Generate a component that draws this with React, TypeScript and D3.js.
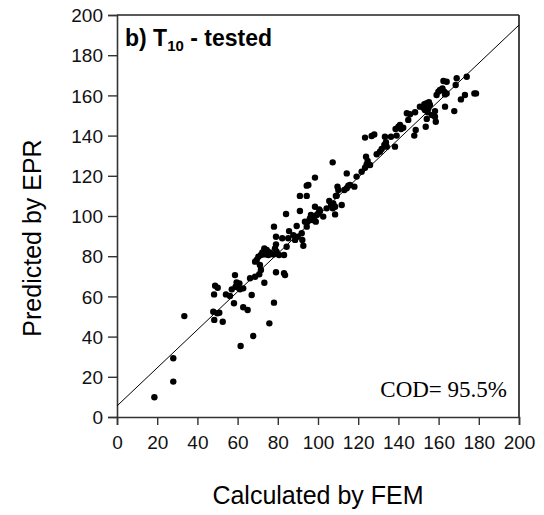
import React, { useEffect, useRef } from "react";
import * as d3 from "d3";

// values (FEM vs EPR)
const calculatedFEM = [
  18.6, 28.0, 28.0, 33.5, 47.9, 48.4, 48.3, 48.8, 50.1, 49.9, 50.9, 52.6, 54.2, 56.2, 57.1, 58.2,
  58.7, 59.5, 60.9, 59.0, 60.4, 61.2, 62.8, 61.5, 62.8, 65.0, 67.0, 67.8, 73.3, 75.8, 78.1, 66.2,
  68.7, 70.8, 71.6, 71.1, 68.7, 69.5, 70.3, 71.6, 73.3, 74.5, 72.3, 73.6, 75.3, 76.1, 77.8, 79.4,
  80.6, 83.1, 79.1, 78.6, 79.1, 83.1, 83.6, 79.1, 78.1, 82.2, 84.4, 85.2, 84.1,
  85.6, 87.7, 89.4, 89.9, 88.6, 91.9, 92.2, 92.7, 91.0, 94.4, 93.5, 94.8, 96.0, 97.2, 98.2, 98.9,
  99.4, 98.5, 101.0, 100.1, 104.3, 105.6, 106.5, 107.6, 108.5, 108.5, 109.3, 110.1, 109.7, 111.8,
  113.1, 114.3, 115.1, 115.9, 114.3, 118.1, 119.2, 107.3, 98.5, 94.4, 95.2, 91.0, 94.4, 102.6, 96.5,
  107.3, 100.6, 108.9,
  121.7, 123.4, 124.2, 124.7, 123.9, 125.9, 129.2, 130.8, 131.7, 133.0, 133.8, 134.2, 138.3, 133.3,
  136.3, 139.1, 123.4, 126.7, 128.0, 138.6, 140.0, 140.8, 142.4, 141.3, 147.9, 148.6, 144.9, 144.2,
  145.8, 148.3, 150.7, 152.4, 152.9, 154.1, 155.2, 155.7, 153.2, 154.9, 154.6, 153.6, 154.1, 156.6,
  158.2, 158.6, 158.2, 159.0, 159.9, 160.7, 161.9, 162.8, 164.0, 163.2, 162.4, 164.0, 163.2, 167.8,
  168.5, 169.0, 171.1, 173.1, 174.0, 177.8, 178.6,
];
const predictedEPR = [
  9.8, 17.6, 29.2, 50.2, 52.4, 48.3, 61.0, 65.3, 64.3, 51.6, 51.9, 47.4, 61.0, 60.2, 63.5, 56.6,
  70.6, 67.0, 66.5, 64.8, 64.3, 63.5, 64.0, 35.3, 54.6, 53.2, 60.7, 40.3, 66.8, 46.6, 56.9, 69.0,
  69.8, 71.0, 73.1, 75.6, 77.3, 78.1, 79.7, 80.6, 83.9, 83.1, 81.9, 80.9, 80.6, 81.9, 80.9, 82.2,
  80.6, 80.6, 85.9, 83.9, 72.0, 71.5, 70.6, 89.7, 94.7, 88.9, 84.7, 88.9, 101.0,
  92.5, 90.5, 95.0, 89.7, 88.1, 91.4, 88.1, 85.2, 102.5, 94.7, 97.2, 97.2, 98.8, 98.0, 99.7, 97.2,
  100.5, 104.6, 102.5, 101.3, 103.8, 107.5, 105.5, 106.3, 104.6, 100.8, 110.1, 112.9, 114.6, 105.5,
  112.9, 113.8, 115.1, 115.4, 121.2, 114.6, 119.6, 126.7, 119.1, 115.1, 115.4, 110.0, 110.0, 99.7, 100.5,
  103.8, 103.3, 110.0,
  122.0, 124.0, 125.7, 127.4, 129.5, 125.4, 130.7, 132.0, 133.3, 135.3, 136.7, 134.5, 134.5, 139.4,
  139.4, 140.0, 139.0, 139.8, 140.6, 143.3, 144.4, 145.3, 143.9, 143.3, 140.0, 142.8, 147.8, 151.1,
  150.6, 151.6, 154.4, 153.9, 155.6, 156.1, 156.6, 155.2, 152.7, 153.6, 151.6, 144.4, 148.3, 150.2,
  149.4, 146.9, 152.2, 160.2, 161.9, 162.7, 163.5, 161.9, 161.0, 160.5, 167.2, 166.8, 154.4, 152.2,
  165.2, 168.5, 158.0, 160.2, 169.3, 161.0, 161.0,
];

const fitLine: [number, number][] = [
  [0, 5.5],
  [200, 195],
];
const tickValues = [0, 20, 40, 60, 80, 100, 120, 140, 160, 180, 200];
const xTitle = "Calculated by FEM";
const yTitle = "Predicted by EPR";
const codLabel = "COD= 95.5%";

const sans = "'Liberation Sans', Arial, sans-serif";

export default function App() {
  const ref = useRef<SVGSVGElement>(null);

  useEffect(() => {
    const svg = d3.select(ref.current);
    svg.selectAll("*").remove();

    const left = 117, right = 519, top = 15, bottom = 417;
    const x = d3.scaleLinear().domain([0, 200]).range([left, right]);
    const y = d3.scaleLinear().domain([0, 200]).range([bottom, top]);

    // frame top / right
    svg.append("line").attr("x1", left).attr("x2", right).attr("y1", top).attr("y2", top)
      .attr("stroke", "#222").attr("stroke-width", 1.5);
    svg.append("line").attr("x1", right).attr("x2", right).attr("y1", top).attr("y2", bottom)
      .attr("stroke", "#333").attr("stroke-width", 1.8);

    const xAxis = svg.append("g")
      .attr("transform", "translate(0," + bottom + ")")
      .call(d3.axisBottom(x).tickValues(tickValues).tickSizeOuter(0).tickSize(8).tickPadding(6));
    const yAxis = svg.append("g")
      .attr("transform", "translate(" + left + ",0)")
      .call(d3.axisLeft(y).tickValues(tickValues).tickSizeOuter(0).tickSize(9).tickPadding(5));

    [xAxis, yAxis].forEach(a => {
      a.select(".domain").attr("stroke", "#333").attr("stroke-width", 1.6);
      a.selectAll(".tick line").attr("stroke", "#333").attr("stroke-width", 1.4);
      a.selectAll(".tick text").attr("fill", "#111").style("font-family", sans).style("font-size", "19px");
    });
    xAxis.selectAll(".tick text").attr("dy", "0.95em");
    yAxis.selectAll(".tick text").attr("dy", "0.35em");

    // fit line
    svg.append("path")
      .attr("d", d3.line<[number, number]>().x(d => x(d[0])).y(d => y(d[1]))(fitLine))
      .attr("fill", "none").attr("stroke", "#000").attr("stroke-width", 1);

    svg.append("g")
      .selectAll("circle")
      .data(calculatedFEM.map((v, i) => [v, predictedEPR[i]]))
      .enter()
      .append("circle")
      .attr("cx", d => x(d[0]))
      .attr("cy", d => y(d[1]))
      .attr("r", 3.2)
      .attr("fill", "#000");

    // panel title with subscript
    const t = svg.append("text").attr("x", 125).attr("y", 46)
      .style("font-family", sans).style("font-weight", "bold").style("font-size", "23px");
    t.append("tspan").text("b) T");
    t.append("tspan").attr("dy", 5).style("font-size", "15px").text("10");
    t.append("tspan").attr("dy", -5).text(" - tested");

    svg.append("text").attr("x", 507).attr("y", 397).attr("text-anchor", "end")
      .style("font-family", "'Liberation Serif', 'Times New Roman', serif").style("font-size", "23px")
      .text(codLabel);

    svg.append("text").attr("x", (left + right) / 2).attr("y", 504).attr("text-anchor", "middle")
      .style("font-family", sans).style("font-size", "25px").text(xTitle);

    svg.append("text")
      .attr("transform", "translate(41,238) rotate(-90)")
      .attr("text-anchor", "middle")
      .style("font-family", sans).style("font-size", "25px").text(yTitle);
  }, []);

  return (
    <svg
      ref={ref}
      width={544}
      height={515}
      style={{ position: "absolute", left: 0, top: 0, background: "#fff" }}
    />
  );
}
